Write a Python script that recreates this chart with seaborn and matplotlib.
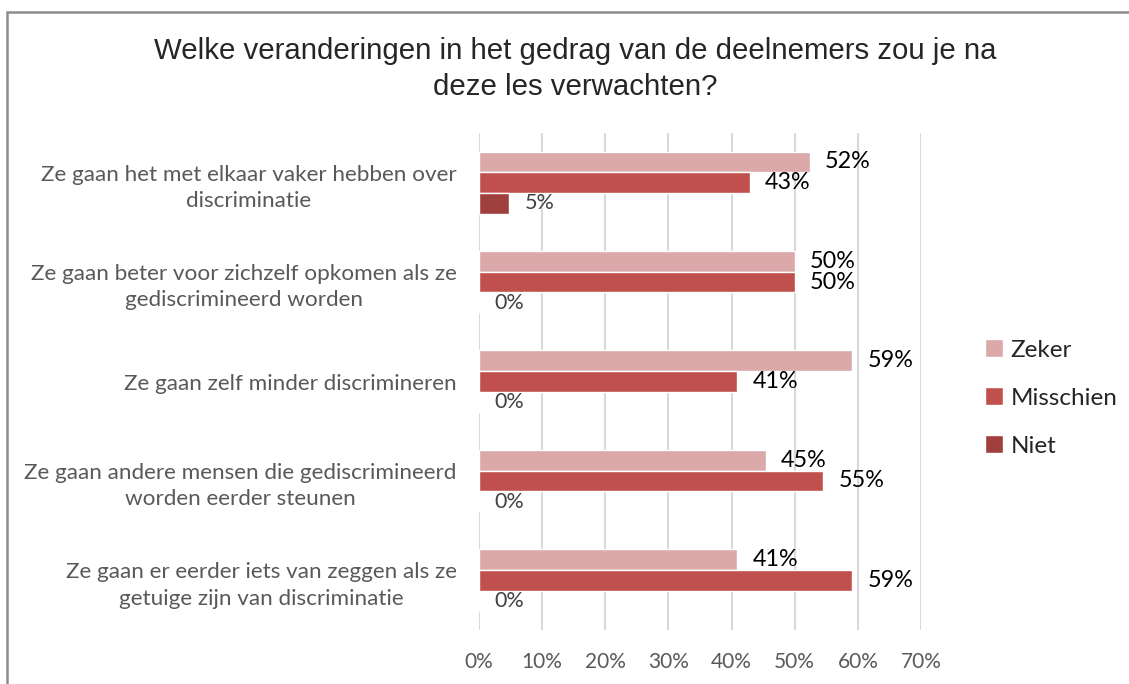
import pandas as pd
import matplotlib
matplotlib.use('Agg')
import matplotlib.pyplot as plt
from matplotlib.patches import Rectangle
import seaborn as sns

# Chart data (percentages)
categories = [
    'Ze gaan het met elkaar vaker hebben over\ndiscriminatie',
    'Ze gaan beter voor zichzelf opkomen als ze\ngediscrimineerd worden',
    'Ze gaan zelf minder discrimineren',
    'Ze gaan andere mensen die gediscrimineerd\nworden eerder steunen',
    'Ze gaan er eerder iets van zeggen als ze\ngetuige zijn van discriminatie',
]
series = ['Zeker', 'Misschien', 'Niet']
zeker = [52.4, 50.0, 59.1, 45.45, 40.9]
misschien = [42.9, 50.0, 40.9, 54.55, 59.1]
niet = [4.8, 0.0, 0.0, 0.0, 0.0]
colors = ['#DBA9A9', '#C0504D', '#A0403E']
title = 'Welke veranderingen in het gedrag van de deelnemers zou je na\ndeze les verwachten?'
x_ticks = [0, 10, 20, 30, 40, 50, 60, 70]

# Long format for seaborn
rows = []
for name, vals in zip(series, [zeker, misschien, niet]):
    for cat, v in zip(categories, vals):
        rows.append({'Vraag': cat, 'Antwoord': name, 'Percentage': v})
df = pd.DataFrame(rows)

sns.set_style('white')
plt.rcParams['font.family'] = ['Lato', 'DejaVu Sans']

fig = plt.figure(figsize=(11.29, 6.84), dpi=100)
ax = fig.add_axes([479 / 1129, 1 - 630 / 684, 442 / 1129, 497 / 684])

sns.barplot(data=df, y='Vraag', x='Percentage', hue='Antwoord',
            hue_order=series, order=categories, palette=colors,
            orient='h', width=0.625, saturation=1, ax=ax, legend=False)

ax.set_xlim(0, 70)
ax.set_xticks(x_ticks)
ax.set_xticklabels([f'{t}%' for t in x_ticks])
ax.set_xlabel('')
ax.set_ylabel('')
ax.grid(axis='x', color='#D9D9D9', linewidth=1.5)
ax.set_axisbelow(True)
for s in ax.spines.values():
    s.set_visible(False)
ax.tick_params(axis='x', length=0, pad=16, labelsize=15, labelcolor='#595959')
ax.tick_params(axis='y', length=0, pad=16, labelsize=16.2, labelcolor='#595959')
for lbl in ax.get_yticklabels():
    lbl.set_multialignment('center')
    lbl.set_linespacing(1.4)

# Data labels
label_colors = ['black', 'black', '#404040']
for cont, vals, lc in zip(ax.containers, [zeker, misschien, niet], label_colors):
    texts = ax.bar_label(cont, labels=[f'{round(v)}%' for v in vals],
                         padding=11, fontsize=16.8 if lc == 'black' else 15.5)
    for t in texts:
        t.set_color(lc)

# Legend
handles = [Rectangle((0, 0), 1, 1, facecolor=c) for c in colors]
fig.legend(handles, series, loc='center left', bbox_to_anchor=(963 / 1129, 1 - 398 / 684),
           frameon=False, fontsize=17.5, handlelength=0.75, handleheight=0.75,
           handletextpad=0.3, labelspacing=1.1, labelcolor='#262626')

fig.text(575 / 1129, 1 - 69 / 684, title, ha='center', va='center',
         fontsize=21.2, family=['Liberation Sans', 'DejaVu Sans'], linespacing=1.4)

# Outer chart frame
fig.add_artist(Rectangle((7 / 1129, -0.1), 1.2, 1.1 - 12 / 684, transform=fig.transFigure,
                         fill=False, edgecolor='#8C8C8C', linewidth=1.8))

fig.savefig('out.png', dpi=100)
